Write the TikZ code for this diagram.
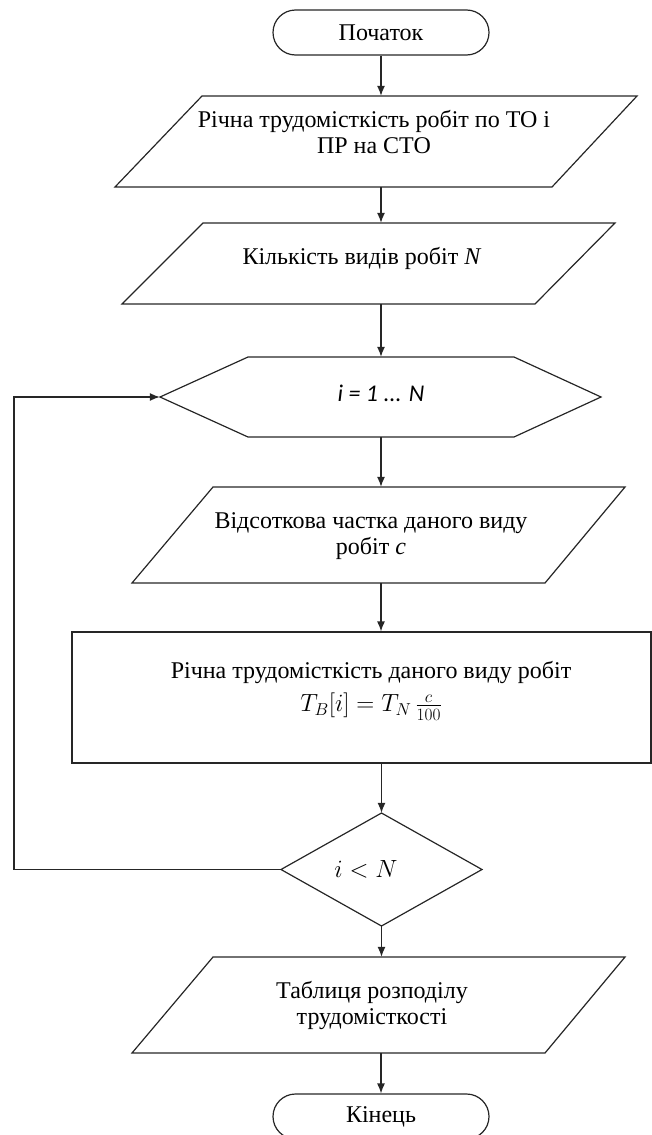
\documentclass[tikz,border=0pt]{standalone}
\usepackage{fontspec}
\setmainfont{Liberation Serif}
\newfontfamily\carl{Carlito}
\usetikzlibrary{arrows.meta}
\begin{document}
\begin{tikzpicture}[x=1pt,y=-1pt,
  outl/.style={draw=black!85, line width=1.2pt, line join=miter},
  box/.style={draw=none, inner sep=0pt, minimum width=20pt},
  txt/.style={font=\fontsize{24}{26}\selectfont, align=center, inner sep=0pt},
  term/.style={outl, txt, rounded corners=22.5pt, minimum width=216pt, minimum height=45pt},
  arr/.style={draw=black!85, line width=1.2pt, -{Latex[length=10pt,width=8pt]}}]
\useasboundingbox (0,0) rectangle (652,1135);

% start
\node[term] (start) at (381,32.5) {Початок};

% P1
\node[box, minimum height=91pt] (p1) at (381,141.5) {};
\draw[outl] (202,96) -- (637,96) -- (552,187) -- (115,187) -- cycle;
\node[txt] (p1t) at (374,132) {Річна трудомісткість робіт по ТО і\\ПР на СТО};

% P2
\node[box, minimum height=81pt] (p2) at (381,263.5) {};
\draw[outl] (203,223) -- (615,223) -- (535,304) -- (122,304) -- cycle;
\node[txt] (p2t) at (362,258) {Кількість видів робіт \textit{N}};

% hexagon
\node[box, minimum width=441pt, minimum height=80pt] (hex) at (380.5,397) {};
\draw[outl] (160,397) -- (248,357) -- (514,357) -- (601,397) -- (514,437) -- (248,437) -- cycle;
\node[txt] (hext) at (381,393) {\carl\itshape i = 1 ... N};

% P3
\node[box, minimum height=96pt] (p3) at (381,535) {};
\draw[outl] (213,487) -- (625,487) -- (545,583) -- (132,583) -- cycle;
\node[txt] (p3t) at (371,536) {Відсоткова частка даного виду\\робіт \textit{c}};

% process
\node[outl, minimum width=579pt, minimum height=131pt, inner sep=0pt] (proc) at (361.5,697.5) {};
\node[txt] (proct) at (371,691) {Річна трудомісткість даного виду робіт\\[7pt]$T_B[i] = T_N\,\frac{c}{100}$};

% decision
\node[box, minimum width=201pt, minimum height=113pt] (dec) at (381.5,869.5) {};
\draw[outl] (381.5,813) -- (482,869.5) -- (381.5,926) -- (281,869.5) -- cycle;
\node[txt] (dect) at (366,869) {$i < N$};

% P4
\node[box, minimum height=96pt] (p4) at (381,1005) {};
\draw[outl] (213,957) -- (625,957) -- (545,1053) -- (132,1053) -- cycle;
\node[txt] (p4t) at (372,1005) {Таблиця розподілу\\трудомісткості};

% end
\node[term] (fin) at (381,1116.5) {Кінець};

% connectors
\draw[arr] (start.south) -- (start.south |- p1.north);
\draw[arr] (p1.south) -- (p2.north);
\draw[arr] (p2.south) -- (p2.south |- hex.north);
\draw[arr] (hex.south -| p3.south) -- (p3.north);
\draw[arr] (p3.south) -- (p3.south |- proc.north);
\draw[arr] (dec.north |- proc.south) -- (dec.north);
\draw[arr] (dec.south) -- (dec.south |- p4.north);
\draw[arr] (p4.south) -- (p4.south |- fin.north);
\coordinate (lp) at (14,0);
\draw[arr] (dec.west) -- (dec.west -| lp) -- (hex.west -| lp) -- (hex.west);
\end{tikzpicture}
\end{document}
